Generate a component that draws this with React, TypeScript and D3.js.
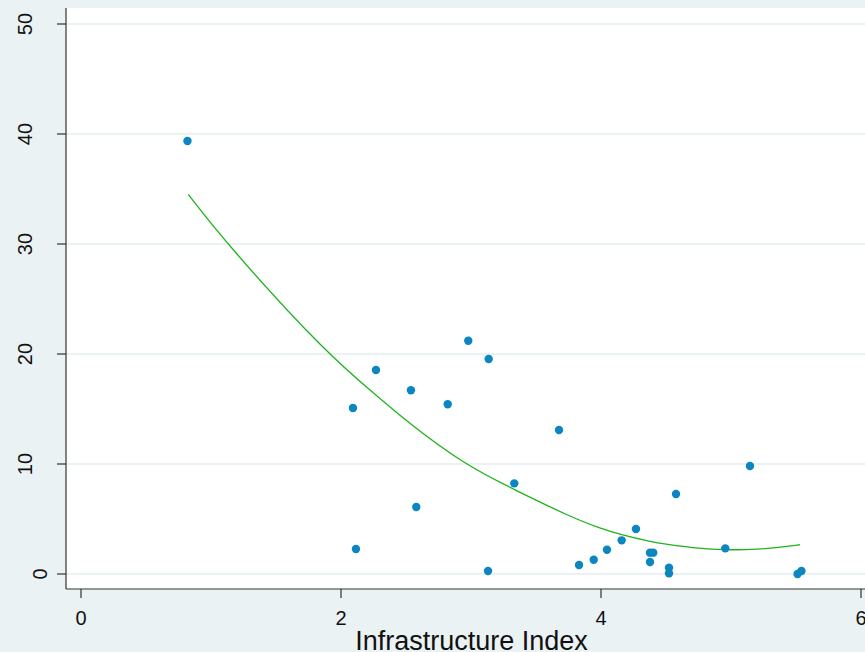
import React from "react";
import * as d3 from "d3";

const infraIndex = [0.819, 2.092, 2.115, 2.269, 2.538, 2.579, 2.821, 2.979, 3.136, 3.131, 3.333, 3.677, 3.831, 3.944, 4.046, 4.159, 4.269, 4.377, 4.402, 4.377, 4.523, 4.523, 4.577, 4.956, 5.146, 5.512, 5.542];
const outcome = [39.36, 15.09, 2.27, 18.55, 16.7, 6.09, 15.43, 21.21, 19.55, 0.27, 8.24, 13.09, 0.82, 1.3, 2.21, 3.06, 4.09, 1.94, 1.94, 1.09, 0.57, 0.06, 7.27, 2.33, 9.82, 0.0, 0.27];

const fitX = [0.825, 1.121, 1.89, 2.3, 2.492, 2.941, 3.338, 3.762, 4.0, 4.146, 4.377, 4.505, 4.762, 4.956, 5.146, 5.402, 5.53];
const fitY = [34.52, 30, 20, 15.97, 14.0, 10, 7.64, 5.21, 4.12, 3.61, 2.94, 2.7, 2.3, 2.21, 2.18, 2.45, 2.66];

const xTicks = [0, 2, 4, 6];
const yTicks = [0, 10, 20, 30, 40, 50];
const xTitle = "Infrastructure Index";

const W = 865;
const H = 652;
const BG = "#EAF2F3";
const FONT = "'Liberation Sans', Arial, Helvetica, sans-serif";

export default function App() {
  const x = d3.scaleLinear().domain([0, 6]).range([81, 861]);
  const y = d3.scaleLinear().domain([0, 50]).range([574, 24]);
  const plotLeft = 66;
  const plotTop = 8;
  const plotBottom = 589;

  const fitData = fitX.map((v, i) => [v, fitY[i]] as [number, number]);
  const line = d3
    .line<[number, number]>()
    .x((d) => x(d[0]))
    .y((d) => y(d[1]))
    .curve(d3.curveBasis);

  return (
    <div style={{ position: "fixed", left: 0, top: 0, width: W, height: H }}>
      <svg width={W} height={H} style={{ display: "block" }}>
        <rect x={0} y={0} width={W} height={H} fill={BG} />
        <rect x={plotLeft} y={plotTop} width={W - plotLeft} height={plotBottom - plotTop} fill="#ffffff" />
        {yTicks.map((t) => (
          <line key={"g" + t} x1={plotLeft} x2={W} y1={y(t)} y2={y(t)} stroke={BG} strokeWidth={2} />
        ))}
        <line x1={plotLeft} x2={plotLeft} y1={plotTop} y2={plotBottom} stroke="#333" strokeWidth={1.2} />
        <line x1={plotLeft} x2={W} y1={plotBottom} y2={plotBottom} stroke="#333" strokeWidth={1.2} />
        {yTicks.map((t) => (
          <g key={"yt" + t}>
            <line x1={plotLeft - 9} x2={plotLeft} y1={y(t)} y2={y(t)} stroke="#333" strokeWidth={1.2} />
            <text
              transform={`translate(${t === 0 ? 47 : 32},${y(t)}) rotate(-90)`}
              textAnchor="middle"
              fontFamily={FONT}
              fontSize={20}
              fill="#111"
            >
              {t}
            </text>
          </g>
        ))}
        {xTicks.map((t) => (
          <g key={"xt" + t}>
            <line x1={x(t)} x2={x(t)} y1={plotBottom} y2={plotBottom + 9} stroke="#333" strokeWidth={1.2} />
            <text x={x(t)} y={625} textAnchor="middle" fontFamily={FONT} fontSize={20} fill="#111">
              {t}
            </text>
          </g>
        ))}
        <text x={471.5} y={650} textAnchor="middle" fontFamily={FONT} fontSize={27} fill="#111">
          {xTitle}
        </text>
        <path d={line(fitData) || ""} fill="none" stroke="#1DB31D" strokeWidth={1.3} />
        {infraIndex.map((v, i) => (
          <circle key={"p" + i} cx={x(v)} cy={y(outcome[i])} r={4.2} fill="#0B86C0" />
        ))}
      </svg>
    </div>
  );
}
